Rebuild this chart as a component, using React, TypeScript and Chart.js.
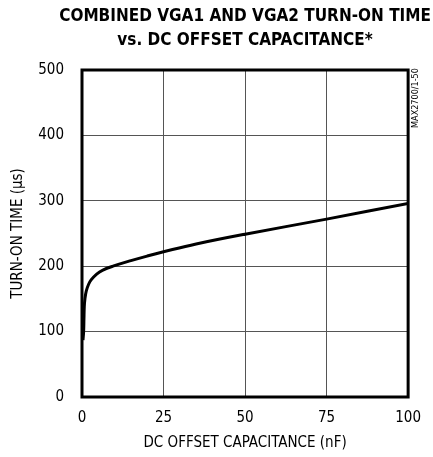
import React, { useEffect, useRef } from "react";
import { Chart, registerables } from "chart.js";

Chart.register(...registerables);

const capacitanceNF = [0.3, 0.5, 0.6, 0.7, 0.9, 1.3, 2, 2.8, 4.5, 6.4, 9.5, 15, 20, 25, 35, 50, 75, 100];
const turnOnTimeUs = [87, 100, 120, 138, 150, 162, 172, 179, 188, 194, 200, 208.5, 215.5, 222, 234, 249, 272, 296];
const xTicks = [0, 25, 50, 75, 100];
const yTicks = [0, 100, 200, 300, 400, 500];
const titleLines = ["COMBINED VGA1 AND VGA2 TURN-ON TIME", "vs. DC OFFSET CAPACITANCE*"];
const xTitle = "DC OFFSET CAPACITANCE (nF)";
const yTitle = "TURN-ON TIME (\u00b5s)";
const sideLabel = "MAX2700/1-50";

const FONT = "'Liberation Sans Narrow', 'DejaVu Sans Condensed', 'Arial Narrow', sans-serif";

const framePlugin = {
  id: "frame",
  afterDraw(chart: any) {
    const { ctx, chartArea } = chart;
    ctx.save();
    ctx.strokeStyle = "#000";
    ctx.lineWidth = 3;
    ctx.strokeRect(chartArea.left, chartArea.top, chartArea.right - chartArea.left, chartArea.bottom - chartArea.top);
    // title centred on the plot area
    const cx = (chartArea.left + chartArea.right) / 2;
    ctx.fillStyle = "#000";
    ctx.font = "bold 17px " + FONT;
    ctx.textAlign = "center";
    ctx.textBaseline = "middle";
    ctx.fillText(titleLines[0], cx, 17);
    ctx.fillText(titleLines[1], cx, 41);
    // side code
    ctx.translate(chartArea.right + 8, chartArea.top + 28);
    ctx.rotate(-Math.PI / 2);
    ctx.font = "9px " + FONT;
    ctx.fillText(sideLabel, 0, 0);
    ctx.restore();
  },
};

export default function App() {
  const ref = useRef<HTMLCanvasElement>(null);
  useEffect(() => {
    if (!ref.current) return;
    const chart = new Chart(ref.current, {
      type: "scatter",
      data: {
        datasets: [
          {
            data: capacitanceNF.map((x, i) => ({ x, y: turnOnTimeUs[i] })),
            showLine: true,
            borderColor: "#000",
            borderWidth: 3,
            pointRadius: 0,
            tension: 0.4,
            fill: false,
          },
        ],
      },
      options: {
        responsive: false,
        animation: false,
        layout: { padding: { left: 0, right: 23, top: 70, bottom: 0 } },
        plugins: {
          legend: { display: false },
          tooltip: { enabled: false },
          title: { display: false },
        },
        scales: {
          x: {
            type: "linear",
            min: 0,
            max: 100,
            afterBuildTicks: (s: any) => {
              s.ticks = xTicks.map((v) => ({ value: v }));
            },
            afterFit: (s: any) => {
              s.height = 60;
            },
            ticks: { color: "#000", font: { family: FONT, size: 15 }, padding: 12, maxRotation: 0 },
            grid: { color: "#555", lineWidth: 1, drawTicks: false },
            border: { display: false },
            title: {
              display: true,
              text: xTitle,
              color: "#000",
              font: { family: FONT, size: 15, lineHeight: 1.2 },
              padding: { top: 0, bottom: 5 },
            },
          },
          y: {
            type: "linear",
            min: 0,
            max: 500,
            afterBuildTicks: (s: any) => {
              s.ticks = yTicks.map((v) => ({ value: v }));
            },
            afterFit: (s: any) => {
              s.width = 82;
            },
            ticks: { color: "#000", font: { family: FONT, size: 15 }, padding: 18 },
            grid: { color: "#555", lineWidth: 1, drawTicks: false },
            border: { display: false },
            title: {
              display: true,
              text: yTitle,
              color: "#000",
              font: { family: FONT, size: 15, lineHeight: 1.2 },
              padding: { top: 9, bottom: 0 },
            },
          },
        },
      },
      plugins: [framePlugin],
    } as any);
    return () => chart.destroy();
  }, []);
  return (
    <div style={{ position: "fixed", left: 0, top: 0, width: 433, height: 457, background: "#fff" }}>
      <canvas ref={ref} width={433} height={457} style={{ width: 433, height: 457 }} />
    </div>
  );
}
